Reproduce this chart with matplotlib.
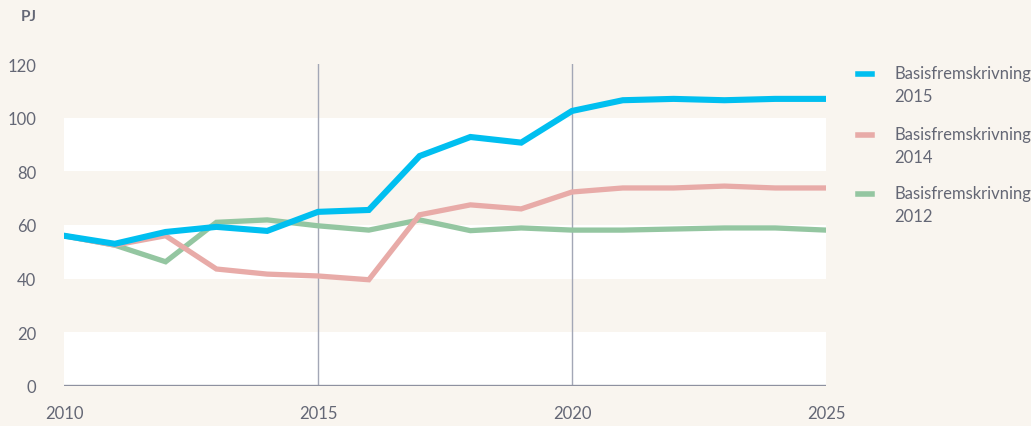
import numpy as np
import matplotlib.pyplot as plt
from matplotlib.lines import Line2D

# data (PJ)
years = list(range(2010, 2026))
bf2015 = [56, 53, 57.4, 59.3, 57.8, 64.9, 65.6, 85.7, 92.8, 90.7, 102.5, 106.5, 107, 106.5, 107, 107]
bf2014 = [56, 52.5, 56, 43.6, 41.7, 41, 39.6, 63.8, 67.5, 66, 72.3, 73.8, 73.8, 74.5, 73.8, 73.8]
bf2012 = [56, 52.5, 46.3, 61, 61.9, 59.7, 58.1, 61.9, 57.9, 58.9, 58.1, 58.1, 58.5, 58.9, 58.9, 58.1]
labels = ['Basisfremskrivning\n2015', 'Basisfremskrivning\n2014', 'Basisfremskrivning\n2012']
colors = ['#00bff0', '#e8aba8', '#94c6a1']

bg = '#f9f5ef'
txt = '#646775'
plt.rcParams['font.family'] = ['Lato', 'DejaVu Sans']

fig = plt.figure(figsize=(10.31, 4.27), dpi=100, facecolor=bg)
ax = fig.add_axes([64 / 1031, 40 / 427, 762 / 1031, 322 / 427])
ax.set_facecolor(bg)

# white bands
for lo in (0, 40, 80):
    ax.axhspan(lo, lo + 20, color='white', lw=0, zorder=0)

# vertical markers
for yr in (2015, 2020):
    ax.axvline(yr, color='#a3a7b6', lw=1, zorder=1)

# lines, drawn bottom to top
ax.plot(years, bf2012, color=colors[2], lw=3.8, solid_joinstyle='miter', zorder=3)
ax.plot(years, bf2014, color=colors[1], lw=3.8, solid_joinstyle='miter', zorder=4)
ax.plot(years, bf2015, color=colors[0], lw=4.4, solid_joinstyle='miter', zorder=5)

ax.axhline(0, color='#8e91a0', lw=2.4, zorder=6)

ax.set_xlim(2010, 2025)
ax.set_ylim(0, 120)
ax.set_xticks([2010, 2015, 2020, 2025])
ax.set_yticks(range(0, 121, 20))
for s in ax.spines.values():
    s.set_visible(False)
ax.tick_params(length=0, colors=txt, labelsize=12)
ax.tick_params(axis='y', pad=20)
ax.tick_params(axis='x', pad=14)

fig.text(37 / 1031, 1 - 17 / 427, 'PJ', ha='right', va='center', color=txt,
         fontsize=11, fontweight='bold')

# legend
ys = [75, 136, 195]
for lab, c, y in zip(labels, colors, ys):
    yf = 1 - y / 427
    fig.add_artist(Line2D([858 / 1031, 872 / 1031], [yf, yf], color=c, lw=4,
                          transform=fig.transFigure))
    fig.text(894 / 1031, 1 - (y - 9) / 427, lab, ha='left', va='top', color=txt,
             fontsize=12, linespacing=1.55)

fig.savefig('out.png', dpi=100, facecolor=bg)
